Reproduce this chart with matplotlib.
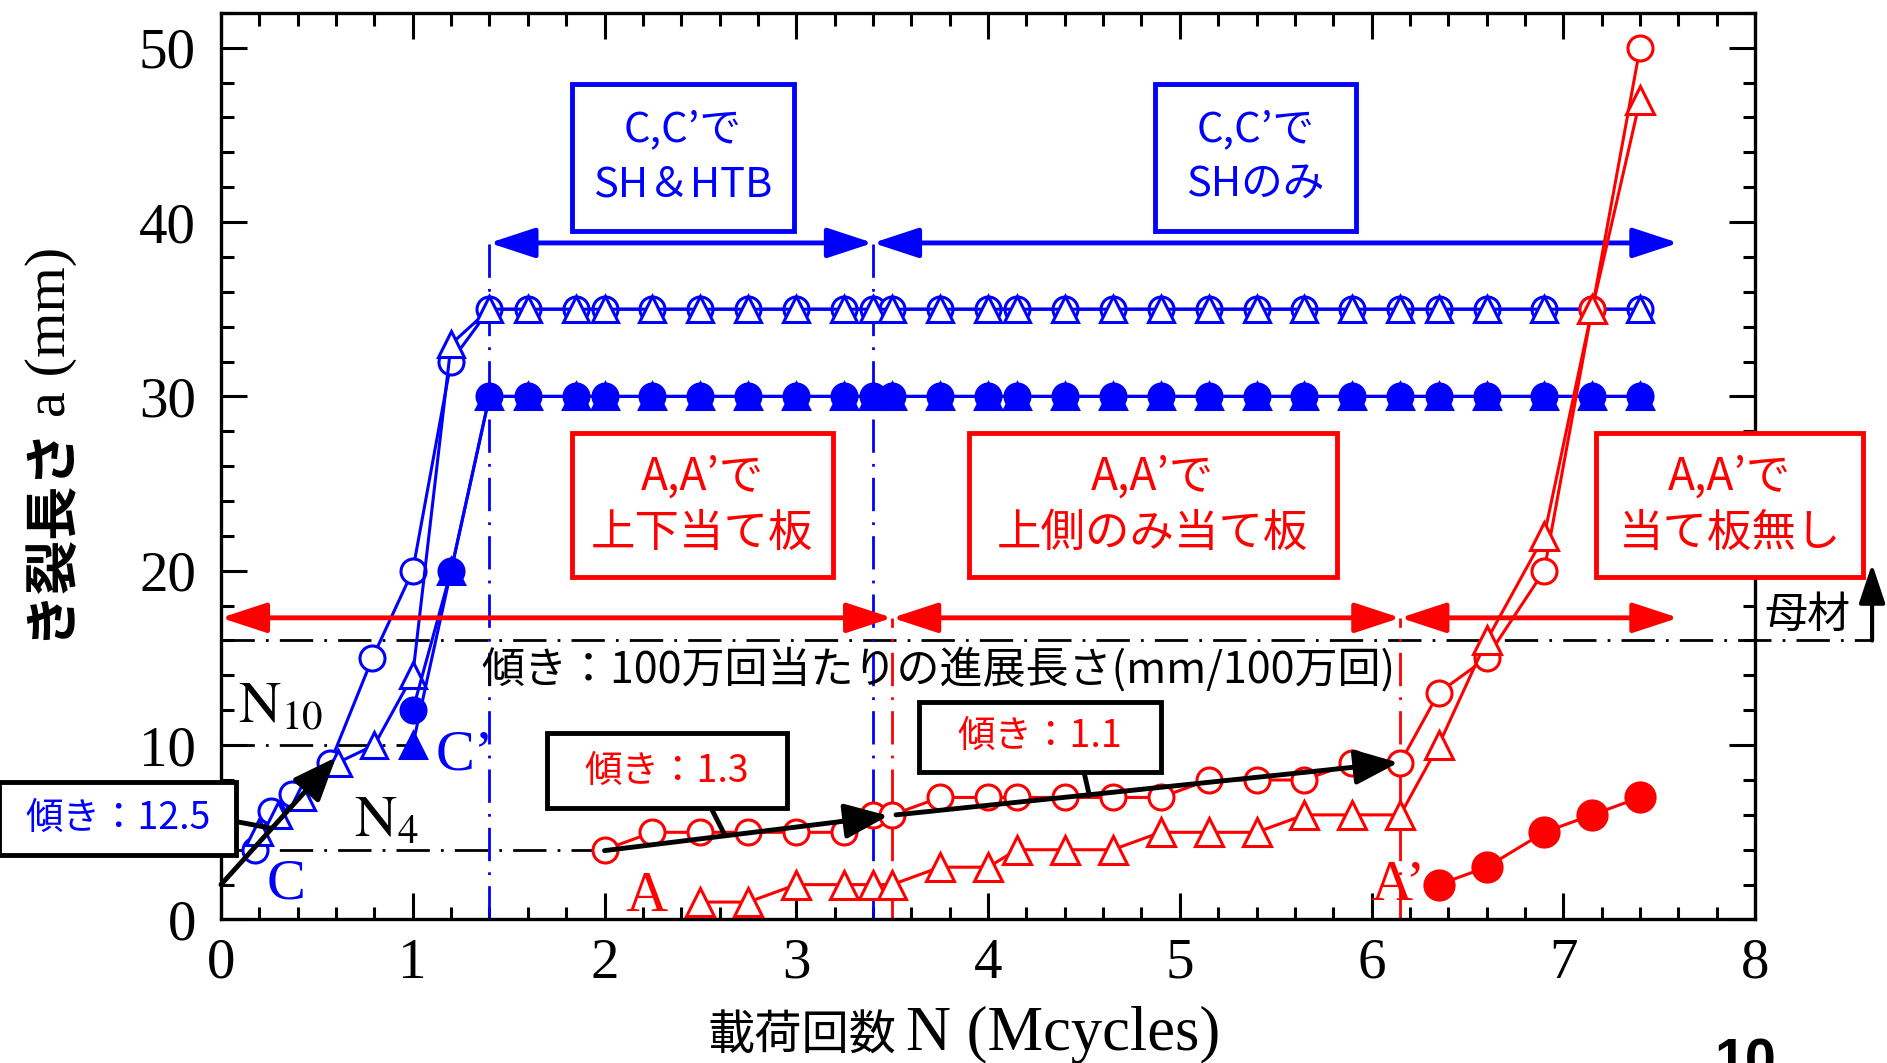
import numpy as np
import matplotlib
matplotlib.use("Agg")
import matplotlib.pyplot as plt
from matplotlib.patches import Rectangle

plt.rcParams['font.family'] = ['Liberation Serif', 'Noto Sans CJK JP']
plt.rcParams['mathtext.fontset'] = 'stix'
plt.rcParams['lines.scale_dashes'] = False

BLUE = '#0000ff'
RED = '#ff0000'
JP = ['Noto Sans CJK JP', 'DejaVu Sans']
DASHDOT = (0, (24, 8, 2, 8))

# --- data (N in Mcycles, a in mm) ---
plateau_x = [1.4, 1.6, 1.85, 2.0, 2.25, 2.5, 2.75, 3.0, 3.25, 3.4, 3.5, 3.75, 4.0, 4.15,
             4.4, 4.65, 4.9, 5.15, 5.4, 5.65, 5.9, 6.15, 6.35, 6.6, 6.9, 7.15, 7.4]
plateau_35 = [35, 35, 35, 35, 35, 35, 35, 35, 35, 35, 35, 35, 35, 35,
              35, 35, 35, 35, 35, 35, 35, 35, 35, 35, 35, 35, 35]
plateau_30 = [30, 30, 30, 30, 30, 30, 30, 30, 30, 30, 30, 30, 30, 30,
              30, 30, 30, 30, 30, 30, 30, 30, 30, 30, 30, 30, 30]

c_circ_x = [0.18, 0.26, 0.37, 0.57, 0.79, 1.0, 1.2] + plateau_x
c_circ_y = [4.0, 6.2, 7.2, 9.0, 15.0, 20.0, 32.0] + plateau_35
c_tri_x = [0.2, 0.3, 0.42, 0.61, 0.8, 1.0, 1.2] + plateau_x
c_tri_y = [5.0, 6.0, 7.0, 9.0, 10.0, 14.0, 33.0] + plateau_35
cp_circ_x = [1.0, 1.2] + plateau_x
cp_circ_y = [12.0, 20.0] + plateau_30
cp_tri_x = [1.0, 1.2] + plateau_x
cp_tri_y = [10.0, 20.0] + plateau_30

a_circ_x = [2.0, 2.25, 2.5, 2.75, 3.0, 3.25, 3.4, 3.5, 3.75, 4.0, 4.15, 4.4, 4.65, 4.9,
            5.15, 5.4, 5.65, 5.9, 6.15, 6.35, 6.6, 6.9, 7.15, 7.4]
a_circ_y = [4.0, 5.0, 5.0, 5.0, 5.0, 5.0, 6.0, 6.0, 7.0, 7.0, 7.0, 7.0, 7.0, 7.0,
            8.0, 8.0, 8.0, 9.0, 9.0, 13.0, 15.0, 20.0, 35.0, 50.0]
a_tri_x = [2.5, 2.75, 3.0, 3.25, 3.4, 3.5, 3.75, 4.0, 4.15, 4.4, 4.65, 4.9, 5.15, 5.4,
           5.65, 5.9, 6.15, 6.35, 6.6, 6.9, 7.15, 7.4]
a_tri_y = [1.0, 1.0, 2.0, 2.0, 2.0, 2.0, 3.0, 3.0, 4.0, 4.0, 4.0, 5.0, 5.0, 5.0,
           6.0, 6.0, 6.0, 10.0, 16.0, 22.0, 35.0, 47.0]
ap_x = [6.35, 6.6, 6.9, 7.15, 7.4]
ap_y = [2.0, 3.0, 5.0, 6.0, 7.0]

x_ticks = [0, 1, 2, 3, 4, 5, 6, 7, 8]
y_ticks = [0, 10, 20, 30, 40, 50]

fig = plt.figure(figsize=(18.87, 10.63), dpi=100)
ax = fig.add_axes([0.1171, 0.135, 0.813, 0.853])
ax.set_xlim(0, 8)
ax.set_ylim(0, 52)
ax.set_xticks(x_ticks)
ax.set_yticks(y_ticks)
ax.set_xticks(np.arange(0, 8.01, 0.2), minor=True)
ax.set_yticks(np.arange(0, 52.01, 2), minor=True)
ax.tick_params(which='both', direction='in', top=True, right=True, width=2.2, labelsize=41)
ax.tick_params(which='major', length=19)
ax.tick_params(which='minor', length=9)
ax.tick_params(axis='x', pad=13)
ax.tick_params(axis='y', pad=18)
for s in ax.spines.values():
    s.set_linewidth(2.4)

# reference lines
ax.plot([0, 8.61], [16, 16], color='black', lw=2, ls=DASHDOT, clip_on=False)
ax.plot([0, 1.0], [10, 10], color='black', lw=2, ls=DASHDOT)
ax.plot([0, 1.97], [4, 4], color='black', lw=2, ls=DASHDOT)
for xv in [1.4, 3.4]:
    ax.plot([xv, xv], [0, 38.8], color=BLUE, lw=2, ls=DASHDOT)
for xv in [3.5, 6.15]:
    ax.plot([xv, xv], [0, 17.3], color=RED, lw=2, ls=DASHDOT)

# blue series (C, C')
ax.plot(c_circ_x, c_circ_y, '-o', color=BLUE, lw=2.2, ms=18, mew=2.2, mfc='white', zorder=3)
ax.plot(c_tri_x, c_tri_y, '-^', color=BLUE, lw=2.2, ms=19, mew=2.2, mfc='white', zorder=3)
ax.plot(cp_circ_x, cp_circ_y, '-o', color=BLUE, lw=2.2, ms=18, mew=2.2, zorder=3)
ax.plot(cp_tri_x, cp_tri_y, '-^', color=BLUE, lw=2.2, ms=19, mew=2.2, zorder=3)

# red series (A, A')
ax.plot(a_circ_x, a_circ_y, '-o', color=RED, lw=2.2, ms=18, mew=2.2, mfc='white', zorder=4)
ax.plot(a_tri_x, a_tri_y, '-^', color=RED, lw=2.2, ms=20, mew=2.2, mfc='white', zorder=4)
ax.plot(ap_x, ap_y, '-o', color=RED, lw=2.2, ms=21, mew=2.2, zorder=4)

def span_arrow(x0, x1, y, color):
    ax.annotate('', xy=(x1, y), xytext=(x0, y), annotation_clip=False,
                arrowprops=dict(arrowstyle='<|-|>,head_length=0.7,head_width=0.23',
                                color=color, lw=3.5, shrinkA=0, shrinkB=0, mutation_scale=40))

def slope_arrow(x0, y0, x1, y1):
    ax.annotate('', xy=(x1, y1), xytext=(x0, y0), annotation_clip=False,
                arrowprops=dict(arrowstyle='-|>,head_length=0.67,head_width=0.27',
                                color='black', lw=3.5, shrinkA=0, shrinkB=0,
                                mutation_scale=40), zorder=6)

span_arrow(1.4, 3.4, 38.8, BLUE)
span_arrow(3.4, 7.6, 38.8, BLUE)
span_arrow(0.0, 3.5, 17.3, RED)
span_arrow(3.5, 6.15, 17.3, RED)
span_arrow(6.15, 7.6, 17.3, RED)

slope_arrow(0.0, 2.0, 0.6, 9.3)
slope_arrow(2.0, 3.95, 3.48, 5.95)
slope_arrow(3.52, 6.0, 6.14, 9.0)

def box(x0, x1, y0, y1, edge, text, tcolor, size, ls=1.25):
    ax.add_patch(Rectangle((x0, y0), x1 - x0, y1 - y0, facecolor='white', edgecolor=edge,
                           lw=3.5, clip_on=False, zorder=7))
    ax.text((x0 + x1) / 2, (y0 + y1) / 2, text, color=tcolor, fontsize=size, family=JP,
            ha='center', va='center', linespacing=ls, zorder=8, clip_on=False)

box(1.83, 2.99, 39.5, 47.9, BLUE, 'C,C’で\nSH＆HTB', BLUE, 30, 1.45)
box(4.87, 5.92, 39.5, 47.9, BLUE, 'C,C’で\nSHのみ', BLUE, 30, 1.45)
box(1.83, 3.19, 19.64, 27.9, RED, 'A,A’で\n上下当て板', RED, 32, 1.3)
box(3.90, 5.82, 19.64, 27.9, RED, 'A,A’で\n上側のみ当て板', RED, 32, 1.3)
box(7.17, 8.565, 19.64, 27.9, RED, 'A,A’で\n当て板無し', RED, 32, 1.3)
box(1.70, 2.95, 6.37, 10.67, 'black', '傾き：1.3', RED, 27)
box(3.64, 4.90, 8.47, 12.48, 'black', '傾き：1.1', RED, 27)
box(-1.155, 0.08, 3.7, 7.9, 'black', '傾き：12.5', BLUE, 27)

# leader lines from slope boxes to arrows
ax.plot([0.087, 0.253], [5.6, 5.25], color='black', lw=3.5, clip_on=False, zorder=6)
ax.plot([2.557, 2.627], [6.37, 4.85], color='black', lw=3.5, zorder=6)
ax.plot([4.50, 4.528], [8.47, 7.13], color='black', lw=3.5, zorder=6)

ax.text(3.74, 14.3, '傾き：100万回当たりの進展長さ(mm/100万回)', family=JP, fontsize=31,
        ha='center', va='center', zorder=8)

# point labels
ax.text(0.34, 2.0, 'C', color=BLUE, fontsize=42, ha='center', va='center')
ax.text(1.12, 9.4, 'C’', color=BLUE, fontsize=42, ha='left', va='center')
ax.text(2.22, 1.3, 'A', color=RED, fontsize=42, ha='center', va='center')
ax.text(6.14, 1.9, 'A’', color=RED, fontsize=42, ha='center', va='center')
ax.text(0.31, 12.1, r'$\mathrm{N}_{10}$', fontsize=42, ha='center', va='center')
ax.text(0.86, 5.6, r'$\mathrm{N}_{4}$', fontsize=42, ha='center', va='center')

# base metal marker
ax.text(8.27, 17.4, '母材', family=JP, fontsize=31, ha='center', va='center', clip_on=False)
ax.annotate('', xy=(8.61, 20.4), xytext=(8.61, 16), annotation_clip=False,
            arrowprops=dict(arrowstyle='-|>,head_length=0.6,head_width=0.2', color='black',
                            lw=3, shrinkA=0, shrinkB=0, mutation_scale=40))

# axis labels
fig.text(0.026, 0.398, 'き裂長さ', family=JP, weight='bold', fontsize=39, rotation=90,
         ha='center', va='bottom')
fig.text(0.027, 0.608, 'a (mm)', fontsize=42, rotation=90, ha='center', va='bottom')
fig.text(0.475, 0.0125, '載荷回数', family=JP, fontsize=34, ha='right', va='baseline')
fig.text(0.480, 0.0125, 'N (Mcycles)', fontsize=45, ha='left', va='baseline')

fig.text(0.925, 0.024, '10', family=['Liberation Sans'], weight='bold', fontsize=40,
         ha='center', va='top')

fig.savefig('out.png', dpi=100)
